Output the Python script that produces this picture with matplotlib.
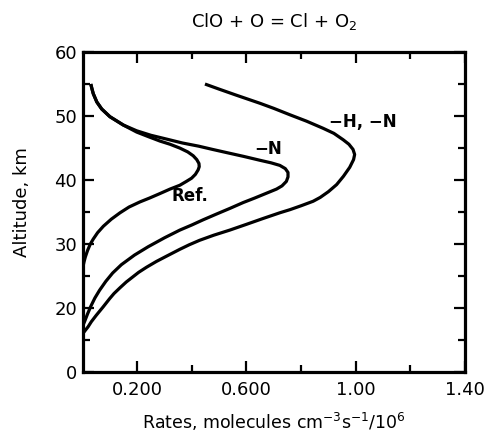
import matplotlib
matplotlib.use("Agg")
import matplotlib.pyplot as plt
from matplotlib.ticker import FixedLocator

# Reference case
ref_x = [0.030, 0.034, 0.039, 0.052, 0.070, 0.100, 0.149, 0.198, 0.240, 0.283, 0.320, 0.356, 0.385,
         0.405, 0.418, 0.426, 0.427, 0.423, 0.413, 0.399, 0.380, 0.356, 0.320, 0.283, 0.245, 0.210,
         0.170, 0.137, 0.105, 0.076, 0.055, 0.039, 0.028, 0.018, 0.010, 0.005, 0.002, 0.0]
ref_y = [55.0, 54.3, 53.5, 52.2, 51.1, 49.9, 48.6, 47.5, 46.8, 46.1, 45.6, 45.0, 44.4,
         43.8, 43.2, 42.6, 42.1, 41.6, 40.9, 40.3, 39.8, 39.2, 38.6, 37.9, 37.2, 36.6,
         35.8, 34.9, 33.9, 32.8, 31.8, 30.8, 30.0, 29.0, 28.0, 27.2, 26.6, 26.0]

# -N case
n_x = [0.030, 0.034, 0.039, 0.052, 0.070, 0.100, 0.149, 0.198, 0.250, 0.308, 0.365, 0.425, 0.475,
       0.527, 0.590, 0.649, 0.690, 0.722, 0.742, 0.752, 0.752, 0.746, 0.730, 0.710, 0.670, 0.630,
       0.588, 0.540, 0.490, 0.441, 0.400, 0.356, 0.300, 0.240, 0.190, 0.142, 0.110, 0.085, 0.062,
       0.045, 0.030, 0.018, 0.008, 0.0]
n_y = [55.0, 54.3, 53.5, 52.2, 51.1, 49.9, 48.6, 47.7, 47.0, 46.4, 45.8, 45.3, 44.8,
       44.3, 43.7, 43.1, 42.7, 42.3, 41.8, 41.2, 40.5, 39.8, 39.1, 38.6, 37.9, 37.2,
       36.5, 35.6, 34.7, 33.8, 33.0, 32.2, 31.0, 29.6, 28.3, 26.8, 25.5, 24.2, 22.8,
       21.6, 20.3, 19.1, 18.0, 17.2]

# -H, -N case
hn_x = [0.448, 0.500, 0.560, 0.649, 0.700, 0.759, 0.820, 0.880, 0.920, 0.954, 0.975, 0.990, 0.996,
        0.992, 0.978, 0.955, 0.930, 0.900, 0.870, 0.844, 0.800, 0.760, 0.722, 0.660, 0.600, 0.539,
        0.480, 0.428, 0.390, 0.356, 0.306, 0.270, 0.234, 0.205, 0.184, 0.160, 0.137, 0.115, 0.099,
        0.075, 0.050, 0.032, 0.020, 0.009, 0.0]
hn_y = [55.0, 54.2, 53.3, 52.0, 51.2, 50.2, 49.2, 48.1, 47.3, 46.3, 45.6, 44.8, 44.0,
        43.2, 42.0, 40.6, 39.3, 38.2, 37.3, 36.7, 36.0, 35.4, 34.9, 34.0, 33.1, 32.2,
        31.4, 30.6, 29.9, 29.2, 28.1, 27.3, 26.4, 25.6, 24.9, 24.1, 23.2, 22.3, 21.5,
        20.2, 18.9, 17.9, 17.1, 16.5, 16.0]

curve_labels = ["Ref.", "\u2212N", "\u2212H, \u2212N"]
label_x = [0.393, 0.678, 1.025]
label_y = [37.5, 44.9, 49.1]

xtick_pos = [0.2, 0.6, 1.0, 1.4]
xtick_labels = ["0.200", "0.600", "1.00", "1.40"]
xminor_pos = [0.4, 0.8, 1.2]
ytick_pos = [10, 20, 30, 40, 50, 60]
ytick_labels = ["0", "20", "30", "40", "50", "60"]
yminor_pos = [15, 25, 35, 45, 55]

plt.rcParams['font.family'] = ['DejaVu Sans']

fig = plt.figure(figsize=(4.91, 4.33), dpi=100)
ax = fig.add_axes([82.6 / 491, 1 - 372.3 / 433, (465 - 82.6) / 491, (372.3 - 52) / 433])

lw = 2.3
for xs, ys in [(ref_x, ref_y), (n_x, n_y), (hn_x, hn_y)]:
    ax.plot(xs, ys, color='black', lw=lw, solid_joinstyle='round', solid_capstyle='butt')

for t, x, y in zip(curve_labels, label_x, label_y):
    ax.text(x, y, t, ha='center', va='center', fontsize=12, fontweight='bold')

ax.set_xlim(0, 1.4)
ax.set_ylim(10, 60)
ax.xaxis.set_major_locator(FixedLocator(xtick_pos))
ax.set_xticklabels(xtick_labels)
ax.xaxis.set_minor_locator(FixedLocator(xminor_pos))
ax.yaxis.set_major_locator(FixedLocator(ytick_pos))
ax.set_yticklabels(ytick_labels)
ax.yaxis.set_minor_locator(FixedLocator(yminor_pos))

ax.tick_params(which='both', direction='in', top=True, right=True, width=1.6, labelsize=13, color='black')
ax.tick_params(which='major', length=8)
ax.tick_params(which='minor', length=5)
ax.tick_params(axis='x', which='major', pad=6)
ax.tick_params(axis='y', which='major', pad=4)
for s in ax.spines.values():
    s.set_linewidth(2.3)

ax.set_title("ClO + O = Cl + O$_2$", fontsize=13, pad=18)
ax.set_xlabel("Rates, molecules cm$^{-3}$s$^{-1}$/10$^6$", fontsize=12.5)
ax.set_ylabel("Altitude, km", fontsize=13)
ax.yaxis.set_label_coords(-0.135, 0.53)
ax.xaxis.set_label_coords(0.5, -0.12)

fig.savefig("out.png", dpi=100)
